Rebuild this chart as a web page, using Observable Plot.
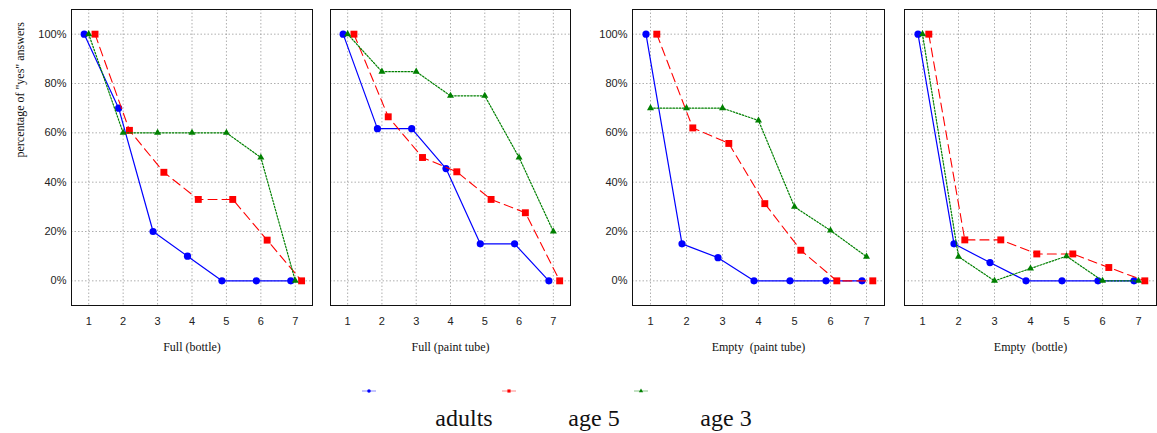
<!DOCTYPE html>
<html>
<head>
<meta charset="utf-8">
<script src="https://cdn.jsdelivr.net/npm/d3@7"></script>
<script src="https://cdn.jsdelivr.net/npm/@observablehq/plot@0.6"></script>
<style>
  body { margin: 0; background: white; }
  #wrap { position: relative; width: 1157px; height: 433px; overflow: hidden; background: white; }
  .pan { position: absolute; top: 0; }
  .leg { position: absolute; font-family: "Liberation Serif", "Times New Roman", serif; font-size: 24px; color: #111; white-space: nowrap; }
</style>
</head>
<body>
<div id="wrap"></div>
<script>
// ---- data ----
const stages = [1, 2, 3, 4, 5, 6, 7];
const panelTitles = ["Full (bottle)", "Full (paint tube)", "Empty  (paint tube)", "Empty  (bottle)"];
const seriesNames = ["adults", "age 5", "age 3"];
const yTicks = [0, 20, 40, 60, 80, 100];
const yAxisLabel = "percentage of \"yes\" answers";

// values per panel (Full bottle, Full paint tube, Empty paint tube, Empty bottle)
const adults = [
  [100, 70, 20, 10, 0, 0, 0],
  [100, 61.7, 61.7, 45.5, 15, 15, 0],
  [100, 15, 9.4, 0, 0, 0, 0],
  [100, 15, 7.4, 0, 0, 0, 0]
];
const age5 = [
  [100, 61, 44, 33, 33, 16.5, 0],
  [100, 66.5, 50, 44.2, 33, 27.6, 0],
  [100, 62, 55.7, 31.3, 12.4, 0, 0],
  [100, 16.6, 16.6, 10.9, 10.9, 5.4, 0]
];
const age3 = [
  [100, 60, 60, 60, 60, 50, 0],
  [100, 84.8, 84.8, 75, 75, 50, 20],
  [70, 70, 70, 65, 30, 20.4, 9.8],
  [100, 9.8, 0, 5, 10, 0, 0]
];
const seriesValues = [adults, age5, age3];

// ---- styles ----
const styles = [
  {stroke: "#0000ff", dash: null, width: 1.2, symbol: "circle", r: 3.6, dx: -4.5},
  {stroke: "#ff0000", dash: "9,5", width: 1.1, symbol: "square", r: 3.9, dx: 6.3},
  {stroke: "#008000", dash: "1.6,1.6", width: 1.2, symbol: "triangle", r: 2.6, dx: 0}
];

const layout = [
  {left: 0,   width: 320, ml: 71, mr: 8,  showY: true},
  {left: 320, width: 260, ml: 10, mr: 10, showY: false},
  {left: 580, width: 310, ml: 52, mr: 6,  showY: true},
  {left: 890, width: 267, ml: 14, mr: 1,  showY: false}
];

const wrap = document.getElementById("wrap");

layout.forEach((L, i) => {
  const seriesMarks = [];
  seriesNames.forEach((name, k) => {
    const rows = stages.map((s, j) => ({stage: s, value: seriesValues[k][i][j], series: name}));
    const st = styles[k];
    seriesMarks.push(Plot.line(rows, {x: "stage", y: "value", stroke: st.stroke, strokeWidth: st.width,
      strokeDasharray: st.dash, dx: st.dx}));
    seriesMarks.push(Plot.dot(rows, {x: "stage", y: "value", fill: st.stroke, stroke: "none",
      symbol: st.symbol, r: st.r, dx: st.dx}));
  });

  const yOpts = {domain: [-10, 110], label: null};
  if (!L.showY) yOpts.axis = null;

  const chart = Plot.plot({
    width: L.width,
    height: 365,
    marginLeft: L.ml,
    marginRight: L.mr,
    marginTop: 9,
    marginBottom: 60,
    x: {domain: [0.5, 7.5], label: null},
    y: yOpts,
    style: {fontFamily: "'Liberation Sans', Arial, sans-serif", fontSize: "11px", background: "white", color: "#222"},
    marks: [
      Plot.gridX(stages, {stroke: "#9a9a9a", strokeOpacity: 1, strokeDasharray: "1.5,2", strokeWidth: 0.8}),
      Plot.gridY(yTicks, {stroke: "#9a9a9a", strokeOpacity: 1, strokeDasharray: "1.5,2", strokeWidth: 0.8}),
      Plot.axisX(stages, {tickSize: 0, tickPadding: 12, label: null, tickFormat: d => String(d)}),
      L.showY ? Plot.axisY(yTicks, {tickSize: 0, tickPadding: 5, label: null, tickFormat: d => d + "%"}) : null,
      ...seriesMarks,
      Plot.frame({stroke: "#111", strokeWidth: 1}),
      Plot.text([panelTitles[i]], {frameAnchor: "bottom", dy: 45, fontFamily: "'Liberation Serif', 'Times New Roman', serif", fontSize: 12, fill: "#111"}),
      i === 0 ? Plot.text([yAxisLabel], {frameAnchor: "left", rotate: -90, dx: -51, fontFamily: "'Liberation Serif', 'Times New Roman', serif", fontSize: 12, fill: "#111"}) : null
    ]
  });
  const div = document.createElement("div");
  div.className = "pan";
  div.style.left = L.left + "px";
  div.appendChild(chart);
  wrap.appendChild(div);
});

// ---- legend ----
const legPos = [
  {sx: 369, lx: 464},
  {sx: 509, lx: 594},
  {sx: 641, lx: 726}
];
seriesNames.forEach((name, k) => {
  const st = styles[k];
  const svg = d3.create("svg").attr("width", 16).attr("height", 10)
    .style("position", "absolute").style("left", (legPos[k].sx - 8) + "px").style("top", "386px");
  svg.append("line").attr("x1", 1).attr("x2", 15).attr("y1", 5).attr("y2", 5)
    .attr("stroke", st.stroke).attr("stroke-width", 0.8).attr("stroke-opacity", 0.6);
  svg.append("path").attr("transform", "translate(8,5)")
    .attr("d", d3.symbol(st.symbol === "circle" ? d3.symbolCircle : st.symbol === "square" ? d3.symbolSquare : d3.symbolTriangle, st.symbol === "triangle" ? 8 : 10)())
    .attr("fill", st.stroke);
  wrap.appendChild(svg.node());
  const t = document.createElement("div");
  t.className = "leg";
  t.textContent = name;
  t.style.left = legPos[k].lx + "px";
  t.style.top = "405px";
  t.style.transform = "translateX(-50%)";
  wrap.appendChild(t);
});
</script>
</body>
</html>
